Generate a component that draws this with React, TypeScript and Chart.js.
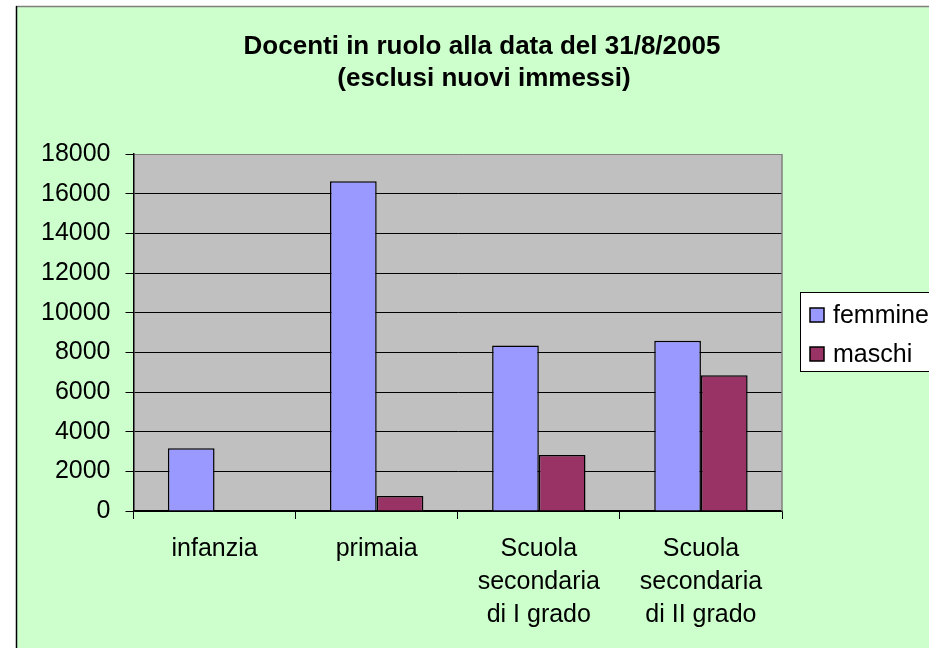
import React, { useEffect, useRef } from "react";
import { Chart, registerables } from "chart.js";

Chart.register(...registerables);

const categories: (string | string[])[] = [
  "infanzia",
  "primaia",
  ["Scuola", "secondaria", "di I grado"],
  ["Scuola", "secondaria", "di II grado"],
];
const femmine: number[] = [3170, 16620, 8350, 8590];
const maschi: (number | null)[] = [null, 760, 2820, 6840];
const seriesNames: string[] = ["femmine", "maschi"];
const titleLines: string[] = ["Docenti in ruolo alla data del 31/8/2005", "(esclusi nuovi immessi)"];

const FONT = "'Liberation Sans', Arial, sans-serif";

const decorPlugin = {
  id: "decor",
  beforeDraw(chart: any) {
    const { ctx, width, height, chartArea } = chart;
    ctx.save();
    ctx.fillStyle = "#ffffff";
    ctx.fillRect(0, 0, width, height);
    ctx.fillStyle = "#CCFFCC";
    ctx.fillRect(16, 6, width - 16, height - 6);
    ctx.strokeStyle = "#808080";
    ctx.lineWidth = 1.5;
    ctx.beginPath();
    ctx.moveTo(16, 6.5);
    ctx.lineTo(width, 6.5);
    ctx.stroke();
    ctx.strokeStyle = "#000000";
    ctx.beginPath();
    ctx.moveTo(16.5, 6);
    ctx.lineTo(16.5, height);
    ctx.stroke();
    ctx.fillStyle = "#C0C0C0";
    ctx.fillRect(chartArea.left, chartArea.top, chartArea.right - chartArea.left, chartArea.bottom - chartArea.top);
    // title
    ctx.fillStyle = "#000000";
    ctx.font = `bold 26px ${FONT}`;
    ctx.textAlign = "center";
    ctx.textBaseline = "alphabetic";
    ctx.fillText(titleLines[0], 482, 54);
    ctx.fillText(titleLines[1], 484, 86);
    ctx.restore();
  },
  afterDraw(chart: any) {
    const { ctx, chartArea } = chart;
    ctx.save();
    // plot area right border
    ctx.strokeStyle = "#808080";
    ctx.lineWidth = 1.5;
    ctx.beginPath();
    ctx.moveTo(chartArea.right, chartArea.top);
    ctx.lineTo(chartArea.right, chartArea.bottom);
    ctx.stroke();
    // legend
    ctx.fillStyle = "#ffffff";
    ctx.fillRect(800, 292, 200, 80);
    ctx.strokeStyle = "#000000";
    ctx.lineWidth = 1;
    ctx.strokeRect(800.5, 292.5, 200, 79);
    const ys = [315, 354];
    chart.data.datasets.forEach((ds: any, i: number) => {
      const y = ys[i];
      ctx.fillStyle = ds.backgroundColor;
      ctx.fillRect(810, y - 7, 14, 14);
      ctx.lineWidth = 1.5;
      ctx.strokeStyle = "#000000";
      ctx.strokeRect(810, y - 7, 14, 14);
      ctx.fillStyle = "#000000";
      ctx.font = `25px ${FONT}`;
      ctx.textAlign = "left";
      ctx.textBaseline = "middle";
      ctx.fillText(ds.label, 833, y + 1);
    });
    ctx.restore();
  },
};

export default function App() {
  const ref = useRef<HTMLCanvasElement | null>(null);
  useEffect(() => {
    if (!ref.current) return;
    const chart = new Chart(ref.current, {
      type: "bar",
      data: {
        labels: categories,
        datasets: [
          {
            label: seriesNames[0],
            data: femmine,
            backgroundColor: "#9999FF",
            borderColor: "#000000",
            borderWidth: 1.5,
          },
          {
            label: seriesNames[1],
            data: maschi,
            backgroundColor: "#993366",
            borderColor: "#000000",
            borderWidth: 1.5,
          },
        ],
      },
      options: {
        responsive: false,
        animation: false,
        devicePixelRatio: 1,
        layout: { padding: { left: 16, top: 154, right: 147, bottom: 0 } },
        datasets: { bar: { categoryPercentage: 0.576, barPercentage: 1 } },
        plugins: {
          legend: { display: false },
          title: { display: false },
          tooltip: { enabled: false },
        },
        scales: {
          x: {
            offset: true,
            grid: {
              display: true,
              drawOnChartArea: false,
              drawTicks: true,
              tickLength: 8,
              color: "#000000",
              offset: true,
            },
            border: { display: true, color: "#000000", width: 1.5 },
            ticks: {
              autoSkip: false,
              maxRotation: 0,
              minRotation: 0,
              padding: 13.5,
              color: "#000000",
              font: { family: FONT, size: 25, lineHeight: 1.32 },
            },
            afterFit(scale: any) {
              scale.height = 137;
            },
          },
          y: {
            min: 0,
            max: 18000,
            ticks: {
              stepSize: 2000,
              padding: 15,
              color: "#000000",
              font: { family: FONT, size: 25 },
              callback: (v: any) => String(v),
            },
            grid: {
              color: (c: any) => (c.tick && c.tick.value === 18000 ? "#808080" : "#000000"),
              tickColor: "#000000",
              lineWidth: 1,
              tickLength: 8,
              drawTicks: true,
            },
            border: { display: true, color: "#000000", width: 1.5 },
            afterFit(scale: any) {
              scale.width = 117.5;
            },
          },
        },
      },
      plugins: [decorPlugin],
    });
    return () => chart.destroy();
  }, []);
  return (
    <div style={{ position: "absolute", left: 0, top: 0, width: 929, height: 648 }}>
      <canvas ref={ref} width={929} height={648} style={{ display: "block", width: 929, height: 648 }} />
    </div>
  );
}
